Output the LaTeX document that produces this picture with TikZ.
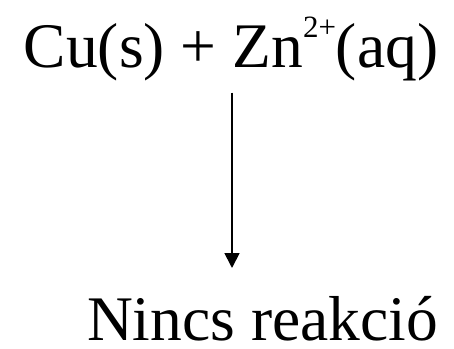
\documentclass[tikz,border=0pt]{standalone}
\usepackage{fontspec}
\setmainfont{Liberation Serif}
\usetikzlibrary{arrows.meta,positioning}
\newcommand{\chemsup}[1]{\raisebox{30pt}{\fontsize{31}{34}\selectfont #1}}

\begin{document}
\begin{tikzpicture}[x=1pt, y=1pt, >={Triangle[width=15pt,length=15pt]},
  chem/.style={inner sep=0pt, anchor=base, font=\fontsize{63.5}{70}\selectfont},
  arr/.style={->, line width=1.8pt}]
  \useasboundingbox (0,0) rectangle (454,348);
  \node[chem] (eq) at (231,280) {Cu(s) + Zn\chemsup{2+}(aq)};
  \node[chem] (res) at (262.5,8) {Nincs reakció};
  \coordinate (tip) at (232,80);
  \draw[arr] (eq.south -| tip) ++(0,-11) -- (tip);
\end{tikzpicture}
\end{document}
